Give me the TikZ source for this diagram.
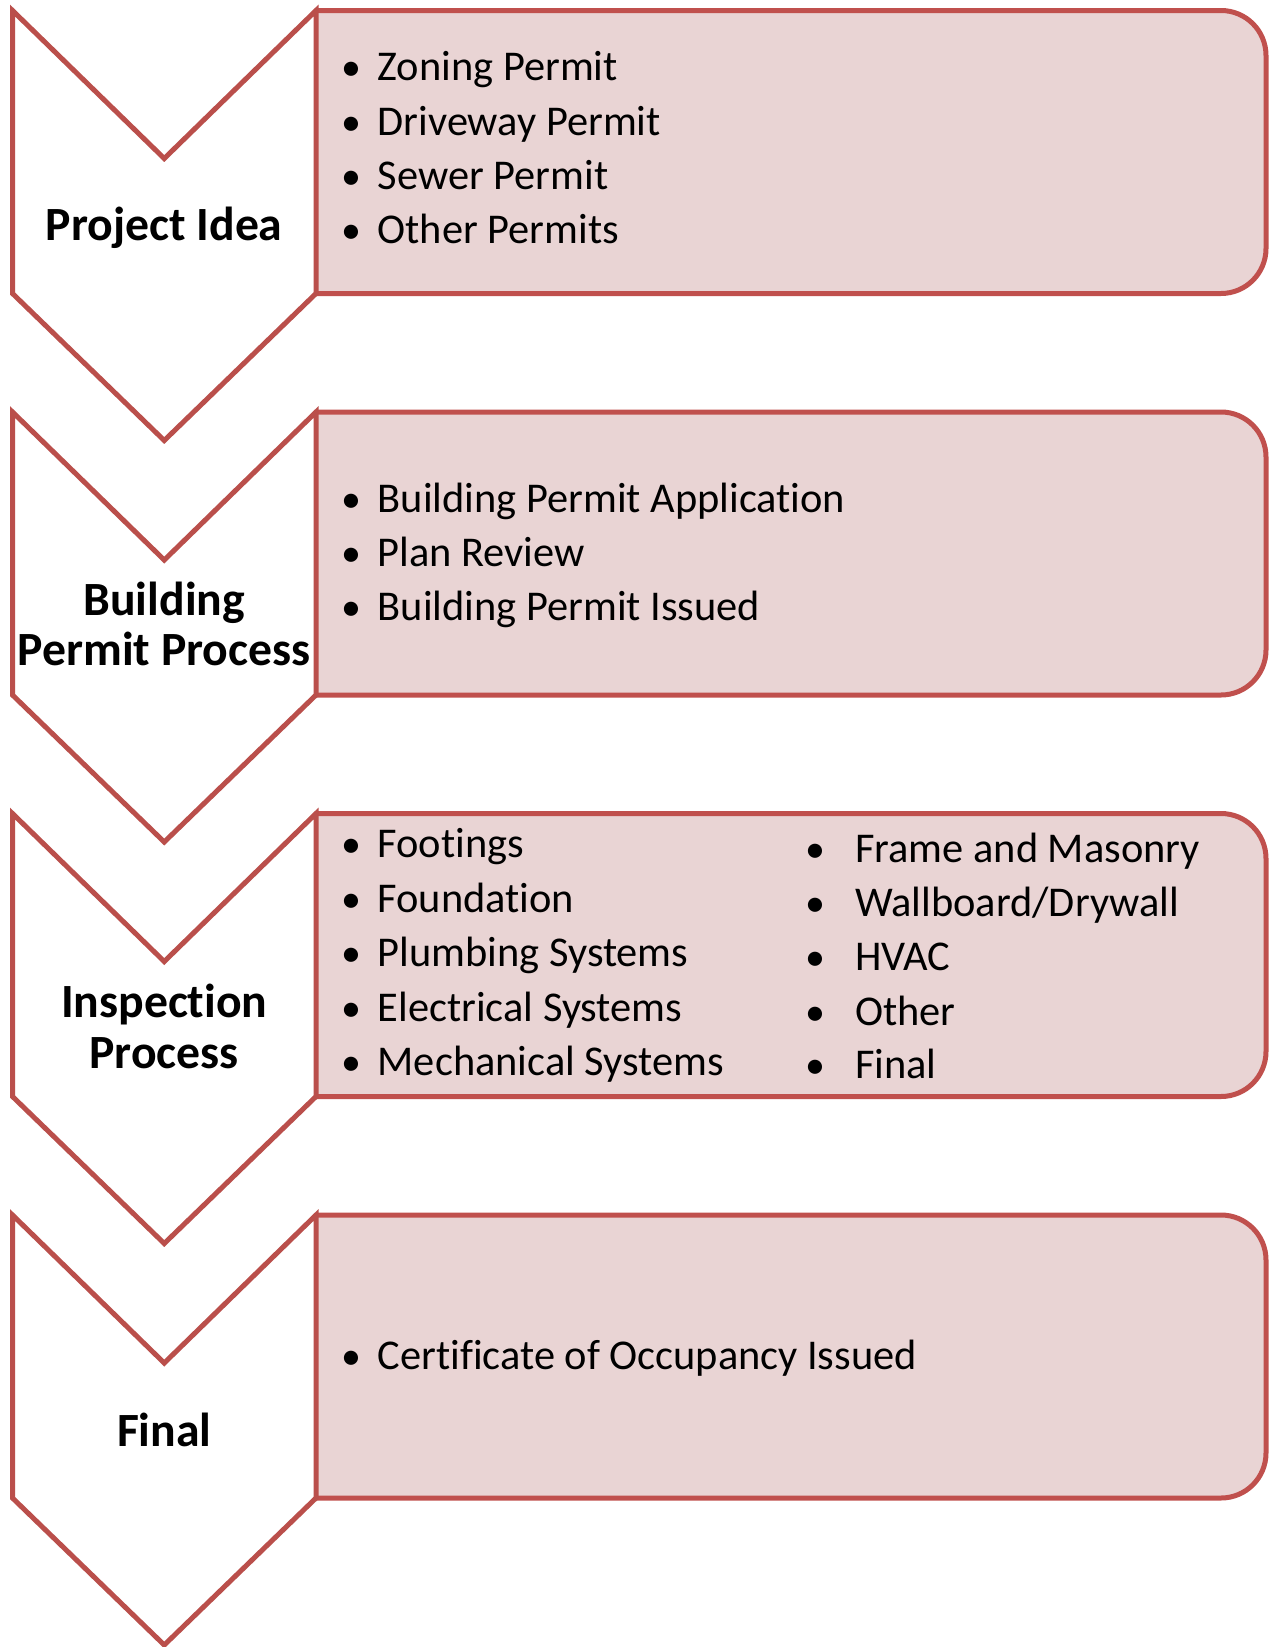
\documentclass[tikz,border=0pt]{standalone}
\usepackage{fontspec}
\setmainfont{Carlito}[RawFeature={-liga;-clig;-calt;-dlig}]
\definecolor{redline}{HTML}{C0504D}
\definecolor{chevline}{HTML}{BA4F4B}
\definecolor{pinkfill}{HTML}{E9D4D4}
\begin{document}
\begin{tikzpicture}[x=1pt,y=-1pt,
  box/.style={fill=pinkfill,draw=redline,line width=5pt,rounded corners=45pt},
  chev/.style={fill=white,draw=chevline,line width=5pt,line join=miter},
  item/.style={anchor=base west,inner sep=0pt,font=\fontsize{42.4}{50}\selectfont},
  bul/.style={anchor=base,inner sep=0pt,font=\fontsize{40}{48}\selectfont},
  lbl/.style={anchor=base,inner sep=0pt,font=\fontsize{47.7}{54}\selectfont\bfseries}]
\useasboundingbox (0,0) rectangle (1271,1647);
% boxes (left side is the chevron's right edge)
\foreach \T in {10.5,412,813.5,1215}{
  \pgfmathsetmacro{\S}{\T+283}
  \filldraw[box] (316,\T) -- (1266,\T) -- (1266,\S) -- (316,\S);
}
% chevrons
\foreach \T in {10.5,412,813.5,1215}{
  \pgfmathsetmacro{\N}{\T+148}
  \pgfmathsetmacro{\S}{\T+283}
  \pgfmathsetmacro{\P}{\T+430}
  \filldraw[chev] (12.5,\T) -- (164.25,\N) -- (316,\T) -- (316,\S) -- (164.25,\P) -- (12.5,\S) -- cycle;
}
% labels
\node[lbl] (l1) at (164.25,240) {Project Idea};
\node[lbl] (l2a) at (164.25,615) {Building};
\node[lbl] (l2b) at (164.25,665) {Permit Process};
\node[lbl] (l3a) at (164.25,1017) {Inspection};
\node[lbl] (l3b) at (164.25,1068) {Process};
\node[lbl] (l4) at (164.25,1446) {Final};
% box 1
\node[bul] (b11) at (351,80) {•};  \node[item] (t11) at (377.5,80) {Zoning Permit};
\node[bul] (b12) at (351,135) {•}; \node[item] (t12) at (377.5,135) {Driveway Permit};
\node[bul] (b13) at (351,189) {•}; \node[item] (t13) at (377.5,189) {Sewer Permit};
\node[bul] (b14) at (351,243) {•}; \node[item] (t14) at (377.5,243) {Other Permits};
% box 2
\node[bul] (b21) at (351,512) {•}; \node[item] (t21) at (377.5,512) {Building Permit Application};
\node[bul] (b22) at (351,566) {•}; \node[item] (t22) at (377.5,566) {Plan Review};
\node[bul] (b23) at (351,620) {•}; \node[item] (t23) at (377.5,620) {Building Permit Issued};
% box 3 left
\node[bul] (b31) at (351,857) {•};  \node[item] (t31) at (377.5,857) {Footings};
\node[bul] (b32) at (351,912) {•};  \node[item] (t32) at (377.5,912) {Foundation};
\node[bul] (b33) at (351,966) {•};  \node[item] (t33) at (377.5,966) {Plumbing Systems};
\node[bul] (b34) at (351,1021) {•}; \node[item] (t34) at (377.5,1021) {Electrical Systems};
\node[bul] (b35) at (351,1075) {•}; \node[item] (t35) at (377.5,1075) {Mechanical Systems};
% box 3 right
\node[bul] (b36) at (815,862) {•};  \node[item] (t36) at (855,862) {Frame and Masonry};
\node[bul] (b37) at (815,916) {•};  \node[item] (t37) at (855,916) {Wallboard/Drywall};
\node[bul] (b38) at (815,970) {•};  \node[item] (t38) at (855,970) {HVAC};
\node[bul] (b39) at (815,1025) {•}; \node[item] (t39) at (855,1025) {Other};
\node[bul] (b310) at (815,1078) {•}; \node[item] (t310) at (855,1078) {Final};
% box 4
\node[bul] (b41) at (351,1369) {•}; \node[item] (t41) at (377.5,1369) {Certificate of Occupancy Issued};
\end{tikzpicture}
\end{document}
